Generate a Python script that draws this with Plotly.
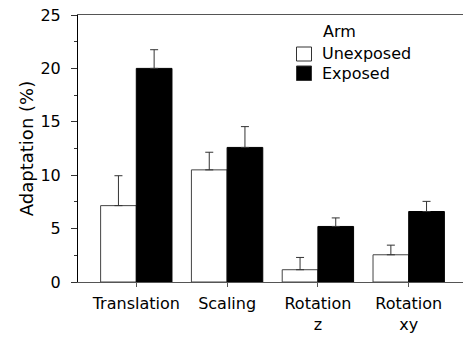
import plotly.graph_objects as go

categories = ["Translation", "Scaling", "Rotation<br>z", "Rotation<br>xy"]
unexposed = [7.15, 10.5, 1.15, 2.55]
unexposed_err = [2.8, 1.65, 1.15, 0.9]
exposed = [20.0, 12.6, 5.2, 6.6]
exposed_err = [1.75, 1.95, 0.8, 0.95]
legend_title = "Arm"
series_names = ["Unexposed", "Exposed"]
series_fill = ["white", "black"]

FONT = "DejaVu Sans"
W, H = 463, 338
L, R, T, B = 78, 0, 15, 56
PW, PH = W - L - R, H - T - B


def px(x):
    return (x - L) / PW


def py(y):
    return (H - B - y) / PH


fig = go.Figure()
fig.add_trace(go.Bar(
    name=series_names[0], x=categories, y=unexposed,
    marker=dict(color=series_fill[0], line=dict(color="#444", width=1)),
    error_y=dict(type="data", array=unexposed_err, arrayminus=[0]*4, symmetric=False,
                 color="#333", thickness=1, width=4),
))
fig.add_trace(go.Bar(
    name=series_names[1], x=categories, y=exposed,
    marker=dict(color=series_fill[1], line=dict(color="black", width=1)),
    error_y=dict(type="data", array=exposed_err, arrayminus=[0]*4, symmetric=False,
                 color="#333", thickness=1, width=4),
))

# manual legend
shapes = []
annotations = [dict(text=legend_title, x=px(321), y=py(31), xref="paper", yref="paper",
                    xanchor="left", yanchor="middle", showarrow=False,
                    font=dict(family=FONT, size=16))]
rows = [(47, 61, 53.5), (66, 80.5, 73.5)]
for name, fill, (y0, y1, yc) in zip(series_names, series_fill, rows):
    shapes.append(dict(type="rect", xref="paper", yref="paper",
                       x0=px(296.5), x1=px(311.5), y0=py(y1), y1=py(y0),
                       fillcolor=fill, line=dict(color="#333", width=1)))
    annotations.append(dict(text=name, x=px(320), y=py(yc), xref="paper", yref="paper",
                            xanchor="left", yanchor="middle", showarrow=False,
                            font=dict(family=FONT, size=16)))

fig.update_layout(
    width=W, height=H,
    margin=dict(l=L, r=R, t=T, b=B),
    paper_bgcolor="white", plot_bgcolor="white",
    barmode="group", bargap=0.214, bargroupgap=0,
    font=dict(family=FONT, size=16, color="black"),
    showlegend=False,
    shapes=shapes,
    annotations=annotations,
)
fig.update_xaxes(
    range=[-0.642, 3.598], showline=True, linecolor="#555", linewidth=1, mirror=True,
    ticks="outside", ticklen=4, tickcolor="#555", showgrid=False, zeroline=False,
    tickfont=dict(family=FONT, size=16), ticklabelstandoff=3,
)
fig.update_yaxes(
    range=[0, 25], dtick=5, showline=True, linecolor="black", linewidth=1,
    ticks="outside", ticklen=6, tickcolor="#333", showgrid=False, zeroline=False,
    minor=dict(dtick=2.5, ticks="outside", ticklen=3, tickcolor="#333", showgrid=False),
    tickfont=dict(family=FONT, size=16), ticklabelstandoff=7,
    title=dict(text="Adaptation (%)", font=dict(family=FONT, size=18), standoff=2),
    automargin=False,
)

fig.write_html("out.html")
